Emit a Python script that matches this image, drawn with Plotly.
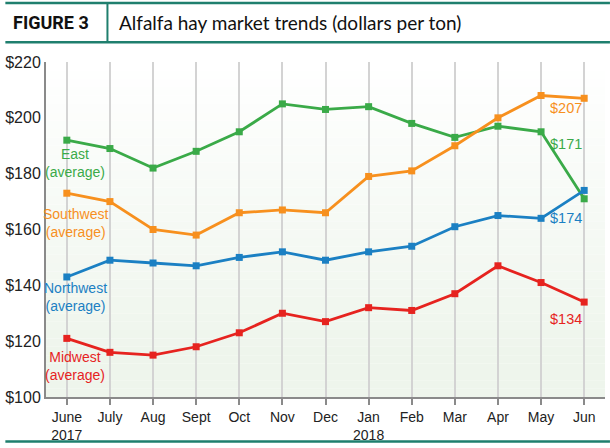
import plotly.graph_objects as go

months = ["June<br>2017", "July", "Aug", "Sept", "Oct", "Nov", "Dec",
          "Jan<br>2018", "Feb", "Mar", "Apr", "May", "Jun"]
east = [192, 189, 182, 188, 195, 205, 203, 204, 198, 193, 197, 195, 171]
southwest = [173, 170, 160, 158, 166, 167, 166, 179, 181, 190, 200, 208, 207]
northwest = [143, 149, 148, 147, 150, 152, 149, 152, 154, 161, 165, 164, 174]
midwest = [121, 116, 115, 118, 123, 130, 127, 132, 131, 137, 147, 141, 134]
yticks = [100, 120, 140, 160, 180, 200, 220]

series = [
    ("East", east, "#3aaa48"),
    ("Southwest", southwest, "#f7901e"),
    ("Northwest", northwest, "#1b80c3"),
    ("Midwest", midwest, "#e6231f"),
]

LABEL = "Liberation Sans, Arial, sans-serif"
TICK = "Liberation Sans, Arial, sans-serif"
idx = list(range(len(months)))

fig = go.Figure()
for name, vals, col in series:
    fig.add_trace(go.Scatter(
        x=idx, y=vals, mode="lines+markers", name=name,
        line=dict(color=col, width=2.8),
        marker=dict(symbol="square", size=7, color=col),
        hoverinfo="x+y", showlegend=False))

left_labels = [("East<br>(average)", 183.8, "#3aaa48"),
               ("Southwest<br>(average)", 162.5, "#f7901e"),
               ("Northwest<br>(average)", 135.9, "#1b80c3"),
               ("Midwest<br>(average)", 111.0, "#e6231f")]
for txt, yv, col in left_labels:
    fig.add_annotation(x=0.19, y=yv, text=txt, showarrow=False,
                       font=dict(family=LABEL, size=14, color=col),
                       xanchor="center", yanchor="middle")

right_labels = [("$207", 203.7, "#f7901e"), ("$171", 190.5, "#3aaa48"),
                ("$174", 164.3, "#1b80c3"), ("$134", 128.0, "#e6231f")]
for txt, yv, col in right_labels:
    fig.add_annotation(x=11.58, y=yv, text=txt, showarrow=False,
                       font=dict(family=LABEL, size=14.5, color=col),
                       xanchor="center", yanchor="middle")

W, H = 610, 448
ml, mr, mt, mb = 41, 5, 62, 48
pw, ph = W - ml - mr, H - mt - mb

def px_to_paper_x(px):
    return (px - ml) / pw

def px_to_paper_y(py):
    return (H - mb - py) / ph

shapes = []
n = 40
top = (255, 255, 255)
bot = (238, 245, 236)
for i in range(n):
    t = (i + 0.5) / n  # 0 bottom -> 1 top
    f = min(1.0, max(0.0, (1 - t) * 1.15))
    c = tuple(int(round(top[k] + (bot[k] - top[k]) * f)) for k in range(3))
    shapes.append(dict(type="rect", xref="paper", yref="paper",
                       x0=0, x1=1, y0=i / n, y1=(i + 1) / n,
                       fillcolor="rgb(%d,%d,%d)" % c, line=dict(width=0),
                       layer="below"))

teal = "#1f7f6e"
shapes += [
    dict(type="line", xref="paper", yref="paper", x0=px_to_paper_x(0), x1=px_to_paper_x(610),
         y0=px_to_paper_y(2.5), y1=px_to_paper_y(2.5), line=dict(color=teal, width=2.5)),
    dict(type="line", xref="paper", yref="paper", x0=px_to_paper_x(0), x1=px_to_paper_x(610),
         y0=px_to_paper_y(42), y1=px_to_paper_y(42), line=dict(color=teal, width=2.5)),
    dict(type="line", xref="paper", yref="paper", x0=px_to_paper_x(103), x1=px_to_paper_x(103),
         y0=px_to_paper_y(2.5), y1=px_to_paper_y(42), line=dict(color=teal, width=2)),
    dict(type="line", xref="paper", yref="paper", x0=px_to_paper_x(0), x1=px_to_paper_x(610),
         y0=px_to_paper_y(445), y1=px_to_paper_y(445), line=dict(color=teal, width=2.5)),
]
fig.update_layout(shapes=shapes)

fig.add_annotation(xref="paper", yref="paper", x=px_to_paper_x(6), y=px_to_paper_y(22),
                   text="<b>FIGURE 3</b>", showarrow=False, xanchor="left", yanchor="middle",
                   font=dict(family="Roboto, Liberation Sans, sans-serif", size=18, color="#111111"))
fig.add_annotation(xref="paper", yref="paper", x=px_to_paper_x(113), y=px_to_paper_y(22),
                   text="Alfalfa hay market trends (dollars per ton)", showarrow=False,
                   xanchor="left", yanchor="middle",
                   font=dict(family="Lato, Roboto, sans-serif", size=19, color="#111111"))

fig.update_layout(
    width=W, height=H,
    margin=dict(l=ml, r=mr, t=mt, b=mb, pad=0),
    paper_bgcolor="white", plot_bgcolor="white",
    xaxis=dict(range=[-0.483, 12.483], tickvals=idx, ticktext=months,
               showgrid=True, gridcolor="#d3d3d3", gridwidth=1.8,
               showline=True, linecolor="#8a8a8a", linewidth=2,
               ticks="outside", ticklen=6, tickcolor="#8a8a8a", tickwidth=1.5,
               tickfont=dict(family=TICK, size=14, color="#222222"),
               zeroline=False, fixedrange=True),
    yaxis=dict(range=[100, 220], tickvals=yticks,
               ticktext=["$%d" % v for v in yticks],
               showgrid=False, showline=True, linecolor="#8a8a8a", linewidth=2,
               ticks="", tickfont=dict(family=TICK, size=16, color="#222222"),
               zeroline=False, fixedrange=True),
    hovermode="closest",
)

fig.write_html("out.html")
